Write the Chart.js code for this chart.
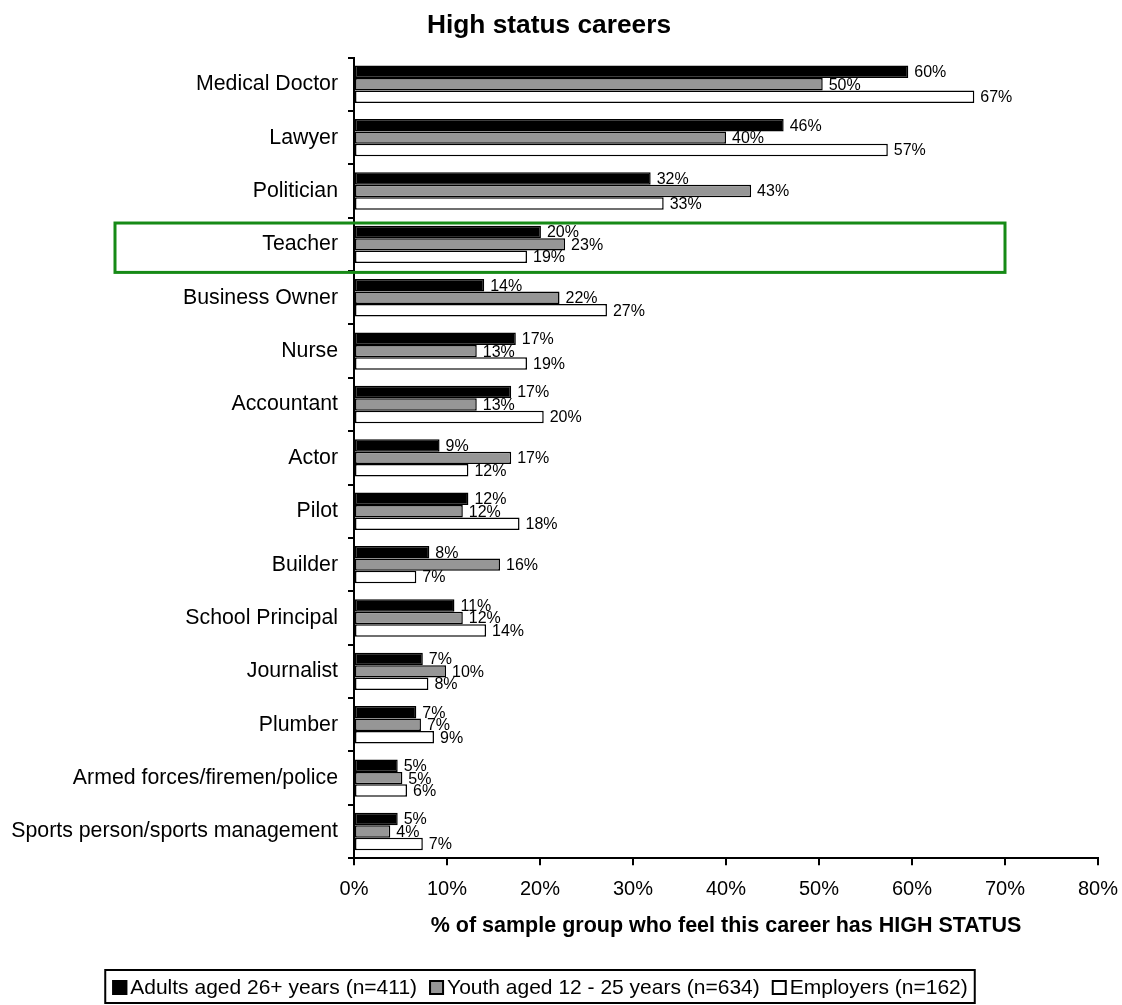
<!DOCTYPE html>
<html>
<head>
<meta charset="utf-8">
<title>High status careers</title>
<script src="https://cdn.jsdelivr.net/npm/chart.js@4.4.0/dist/chart.umd.min.js"></script>
<style>
  html, body { margin: 0; padding: 0; background: #fff; }
  #wrap { width: 1122px; height: 1005px; position: relative; }
</style>
</head>
<body>
<div id="wrap"><canvas id="chart"></canvas></div>
<script>
// values (percent)
const categories = [
    'Medical Doctor', 'Lawyer', 'Politician', 'Teacher', 'Business Owner',
    'Nurse', 'Accountant', 'Actor', 'Pilot', 'Builder',
    'School Principal', 'Journalist', 'Plumber',
    'Armed forces/firemen/police', 'Sports person/sports management'
]
const adults    = [59.6, 46.2, 31.9, 20.1, 14.0, 17.4, 16.9, 9.2, 12.3, 8.1, 10.8, 7.4, 6.7, 4.7, 4.7]
const youth     = [50.4, 40.0, 42.7, 22.7, 22.1, 13.2, 13.2, 16.9, 11.7, 15.7, 11.7, 9.9, 7.2, 5.2, 3.9]
const employers = [66.7, 57.4, 33.3, 18.6, 27.2, 18.6, 20.4, 12.3, 17.8, 6.7, 14.2, 8.0, 8.6, 5.7, 7.4]
const seriesNames = ['Adults aged 26+ years (n=411)', 'Youth aged 12 - 25 years (n=634)', 'Employers (n=162)']
const xTickLabels = ['0%', '10%', '20%', '30%', '40%', '50%', '60%', '70%', '80%']
const highlighted = 'Teacher'

const FONT = "'Liberation Sans', Arial, sans-serif"

// value labels at the end of each bar
const barLabels = {
    id: 'barLabels',
    afterDatasetsDraw(chart) {
        const ctx = chart.ctx
        ctx.save()
        ctx.font = '16px ' + FONT
        ctx.fillStyle = '#000'
        ctx.textAlign = 'left'
        ctx.textBaseline = 'middle'
        chart.data.datasets.forEach(function (ds, i) {
            chart.getDatasetMeta(i).data.forEach(function (bar, j) {
                ctx.fillText(Math.round(ds.data[j]) + '%', bar.x + 6, bar.y + 1)
            })
        })
        ctx.restore()
    }
}

// green box round the Teacher row + boxed legend at the bottom
const extras = {
    id: 'extras',
    afterDraw(chart) {
        const ctx = chart.ctx
        const y = chart.scales.y
        const x = chart.scales.x
        const idx = categories.indexOf(highlighted)
        const band = y.getPixelForValue(1) - y.getPixelForValue(0)
        const c = y.getPixelForValue(idx)
        ctx.save()
        ctx.strokeStyle = '#168a16'
        ctx.lineWidth = 3
        const top = c - 0.40 * band
        const bottom = c + 0.525 * band
        const left = x.getPixelForValue(0) - 239
        const right = x.getPixelForValue(70)
        ctx.strokeRect(left, top, right - left, bottom - top)
        ctx.restore()

        // legend
        ctx.save()
        ctx.font = '21px ' + FONT
        ctx.textBaseline = 'middle'
        const box = 15, gapBox = 3, gapItem = 12, pad = 7
        let total = 0
        chart.data.datasets.forEach(function (ds, i) {
            total += box + gapBox + ctx.measureText(ds.label).width
            if (i < chart.data.datasets.length - 1) total += gapItem
        })
        const lx = 540 - total / 2 - pad
        const ly = 970, lh = 33
        ctx.strokeStyle = '#000'
        ctx.lineWidth = 2
        ctx.strokeRect(lx, ly, total + pad * 2, lh)
        let cx = lx + pad
        const cy = ly + lh / 2 + 1
        chart.data.datasets.forEach(function (ds) {
            ctx.fillStyle = ds.backgroundColor
            ctx.fillRect(cx, cy - box / 2, box, box)
            ctx.lineWidth = 2
            ctx.strokeStyle = '#000'
            ctx.strokeRect(cx + 1, cy - box / 2 + 1, box - 2, box - 2)
            cx += box + gapBox
            ctx.fillStyle = '#000'
            ctx.fillText(ds.label, cx, cy + 1)
            cx += ctx.measureText(ds.label).width + gapItem
        })
        ctx.restore()
    }
}

const ctx = document.getElementById('chart').getContext('2d')
const myChart = new Chart(ctx, {
    type: 'bar',
    data: {
        labels: categories,
        datasets: [
            { label: seriesNames[0], data: adults, backgroundColor: '#000000', borderColor: '#000', borderWidth: 1.5, borderSkipped: false },
            { label: seriesNames[1], data: youth, backgroundColor: '#969696', borderColor: '#000', borderWidth: 1.5, borderSkipped: false },
            { label: seriesNames[2], data: employers, backgroundColor: '#ffffff', borderColor: '#000', borderWidth: 1.5, borderSkipped: false }
        ]
    },
    options: {
        indexAxis: 'y',
        responsive: true,
        maintainAspectRatio: false,
        animation: false,
        categoryPercentage: 0.70,
        barPercentage: 1.0,
        layout: { padding: { left: 0, right: 24, top: 0, bottom: 66 } },
        plugins: {
            legend: { display: false },
            tooltip: { enabled: false },
            title: {
                display: true,
                text: 'High status careers',
                color: '#000',
                font: { family: FONT, size: 26.3, weight: 'bold' },
                padding: { top: 10, bottom: 16 }
            }
        },
        scales: {
            x: {
                min: 0,
                max: 80,
                afterFit: function (scale) { scale.paddingRight = 0; scale.paddingLeft = 0 },
                ticks: {
                    stepSize: 10,
                    color: '#000',
                    padding: 12,
                    maxRotation: 0,
                    font: { family: FONT, size: 20 },
                    callback: function (v, i) { return xTickLabels[i] }
                },
                grid: { drawOnChartArea: false, color: '#000', lineWidth: 2, tickLength: 7 },
                border: { color: '#000', width: 2 },
                title: {
                    display: true,
                    text: '% of sample group who feel this career has HIGH STATUS',
                    color: '#000',
                    font: { family: FONT, size: 21.5, weight: 'bold' },
                    padding: { top: 0, bottom: 0 }
                }
            },
            y: {
                afterFit: function (scale) { scale.width = 354 },
                ticks: {
                    color: '#000',
                    padding: 10,
                    autoSkip: false,
                    font: { family: FONT, size: 21.3 }
                },
                grid: { drawOnChartArea: false, color: '#000', lineWidth: 2, tickLength: 6, offset: true },
                border: { color: '#000', width: 2 }
            }
        }
    },
    plugins: [barLabels, extras]
})
</script>
</body>
</html>
